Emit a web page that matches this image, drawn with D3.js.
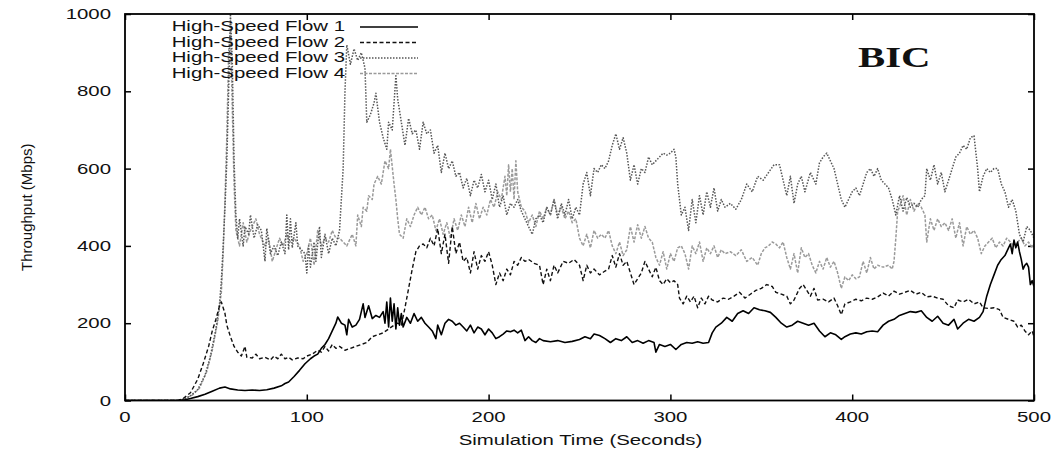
<!DOCTYPE html>
<html>
<head>
<meta charset="utf-8">
<script src="https://cdn.jsdelivr.net/npm/d3@7"></script>
<style>
  body { margin: 0; background: #fff; }
  text { font-family: "Liberation Sans", Arial, sans-serif; fill: #111; }
</style>
</head>
<body>
<div id="chart"></div>
<script>
// tick values
var xTicks = [0, 100, 200, 300, 400, 500];
var yTicks = [0, 200, 400, 600, 800, 1000];
var seriesNames = ["High-Speed Flow 1", "High-Speed Flow 2", "High-Speed Flow 3", "High-Speed Flow 4"];

// [time (s), throughput (Mbps)]
var flow1 = [[0,0],[30,0],[33,2],[36,5],[40,10],[44,16],[48,24],[52,32],[55,35],[58,30],[62,27],[66,26],[70,27],[74,26],[78,28],[82,32],[86,38],[88,44],[90,48],[93,62],[96,78],[99,95],[102,108],[104,115],[106,120],[108,135],[110,145],[112,160],[114,180],[116,200],[117,216],[119,200],[121,195],[122,170],[123,210],[125,190],[127,195],[129,210],[131,250],[132,215],[134,245],[136,212],[138,220],[140,215],[142,230],[143,200],[144,255],[145,190],[146,265],[147,205],[148,250],[149,185],[150,240],[151,195],[152,225],[153,190],[155,215],[157,200],[159,225],[161,205],[163,215],[165,200],[167,190],[169,180],[171,160],[172,195],[174,170],[176,200],[178,210],[180,205],[182,195],[184,200],[186,190],[188,180],[190,195],[192,175],[194,190],[196,185],[198,170],[200,185],[202,175],[204,160],[206,165],[208,172],[210,180],[212,178],[214,182],[216,175],[218,182],[220,155],[222,165],[224,155],[226,150],[228,160],[230,155],[234,152],[238,155],[242,150],[246,153],[250,158],[253,165],[256,160],[258,172],[261,168],[264,160],[267,150],[270,160],[273,155],[276,165],[279,150],[282,155],[285,148],[288,155],[291,150],[292,125],[294,145],[297,140],[300,145],[303,132],[306,145],[309,150],[312,148],[315,152],[318,148],[321,150],[323,175],[325,190],[328,200],[331,215],[334,205],[337,225],[340,232],[343,225],[346,240],[349,235],[352,232],[355,228],[358,215],[361,200],[364,190],[367,195],[370,205],[373,200],[376,195],[379,200],[382,180],[385,165],[388,175],[391,170],[394,158],[396,165],[399,172],[402,175],[405,172],[408,178],[411,180],[414,178],[417,195],[420,205],[423,210],[426,220],[429,225],[432,230],[435,228],[438,232],[441,215],[444,205],[447,218],[450,200],[453,195],[456,210],[458,185],[461,200],[464,210],[467,205],[470,215],[472,230],[474,270],[476,300],[478,325],[480,350],[482,365],[484,375],[486,395],[487,405],[488,380],[489,415],[490,395],[491,410],[492,385],[493,365],[494,340],[495,350],[496,355],[497,345],[498,300],[499,310],[500,295]];

var flow2 = [[0,0],[29,0],[32,5],[36,20],[40,55],[43,95],[46,140],[48,180],[50,210],[52,245],[53,255],[54,240],[55,225],[56,195],[57,180],[58,165],[60,140],[62,125],[64,115],[66,140],[67,112],[70,110],[72,120],[74,108],[77,112],[80,105],[82,115],[84,108],[86,120],[88,108],[90,112],[92,105],[95,110],[98,108],[100,115],[103,120],[106,130],[108,125],[110,140],[112,128],[114,145],[116,135],[118,140],[121,130],[124,135],[127,140],[130,145],[133,150],[136,165],[139,170],[142,175],[145,185],[148,195],[150,200],[152,195],[154,240],[156,290],[158,340],[160,385],[162,400],[164,405],[166,395],[168,420],[170,400],[172,445],[174,380],[176,430],[178,355],[180,450],[182,380],[184,410],[186,360],[188,370],[190,330],[192,385],[194,340],[196,375],[198,360],[200,385],[202,350],[204,300],[206,330],[208,310],[210,340],[212,325],[214,360],[216,350],[218,370],[220,360],[222,365],[225,355],[228,350],[230,300],[232,340],[234,310],[236,350],[238,330],[241,360],[244,355],[247,365],[250,350],[252,310],[254,350],[256,330],[258,340],[261,325],[264,335],[266,340],[268,375],[270,345],[272,380],[274,350],[276,360],[278,330],[280,300],[282,315],[284,330],[286,360],[288,340],[290,320],[292,345],[294,310],[296,300],[298,315],[300,305],[302,310],[304,300],[305,265],[307,250],[309,270],[311,255],[313,270],[315,240],[317,265],[319,250],[321,270],[323,260],[326,255],[329,265],[332,262],[335,270],[338,280],[341,265],[344,275],[347,285],[350,290],[353,300],[356,295],[358,280],[361,275],[364,270],[366,250],[368,260],[371,290],[373,300],[375,285],[377,270],[379,290],[381,260],[384,262],[387,255],[390,265],[392,245],[394,222],[396,250],[399,255],[402,262],[405,258],[408,265],[411,262],[414,268],[417,278],[420,270],[423,283],[426,275],[429,280],[432,285],[435,275],[438,280],[441,268],[444,270],[447,265],[450,262],[453,245],[456,240],[458,260],[461,255],[464,262],[467,250],[470,255],[472,240],[475,238],[478,240],[481,235],[483,215],[486,210],[489,205],[491,190],[493,195],[495,180],[497,170],[499,180],[500,165]];

var flow3 = [[0,0],[28,0],[32,3],[36,12],[40,28],[44,65],[47,115],[50,185],[52,250],[53,310],[54,400],[55,500],[56,620],[57,800],[58,1000],[59,880],[60,620],[61,480],[62,420],[63,470],[65,400],[66,450],[68,430],[69,480],[71,420],[73,455],[75,440],[77,360],[78,445],[80,380],[82,400],[84,375],[86,410],[88,380],[89,480],[90,390],[91,470],[92,395],[94,460],[95,400],[97,390],[99,380],[100,330],[101,400],[102,345],[104,410],[105,360],[107,450],[108,370],[110,430],[112,380],[114,420],[116,400],[118,440],[120,600],[121,800],[122,920],[124,870],[126,910],[128,880],[130,900],[132,860],[133,720],[135,740],[137,770],[138,795],[140,720],[142,680],[144,650],[145,720],[147,700],[149,840],[150,780],[152,720],[154,660],[156,730],[158,690],[160,700],[162,650],[164,720],[166,690],[168,700],[170,640],[172,660],[174,590],[176,640],[178,600],[180,620],[182,580],[184,590],[186,550],[188,575],[190,530],[192,570],[194,550],[196,585],[198,540],[200,570],[202,520],[204,560],[206,500],[208,530],[210,480],[212,510],[214,500],[216,520],[218,490],[220,470],[222,450],[224,430],[226,470],[228,480],[230,460],[232,500],[234,480],[236,520],[238,470],[240,510],[242,480],[244,520],[246,470],[248,500],[250,480],[252,560],[254,590],[256,530],[258,600],[260,590],[262,610],[264,600],[266,620],[268,660],[270,690],[272,650],[274,680],[276,640],[278,570],[280,610],[282,560],[284,600],[286,590],[288,630],[290,610],[292,620],[294,630],[296,640],[298,635],[300,640],[302,650],[303,630],[304,560],[305,520],[306,480],[308,500],[310,440],[312,520],[314,460],[316,530],[318,480],[320,540],[322,500],[324,550],[326,490],[328,520],[330,500],[333,510],[336,495],[339,520],[342,560],[345,540],[348,580],[351,570],[354,590],[357,610],[360,610],[362,570],[364,530],[366,580],[368,510],[370,560],[372,580],[374,540],[377,590],[380,560],[382,615],[384,630],[386,640],[388,620],[390,600],[392,560],[394,520],[396,500],[398,520],[400,540],[402,550],[404,530],[406,560],[408,590],[410,600],[412,580],[414,600],[416,570],[418,560],[420,550],[422,520],[424,480],[426,530],[428,490],[430,525],[432,500],[434,510],[436,500],[438,520],[440,530],[441,600],[443,570],[445,610],[447,560],[449,590],[451,540],[453,570],[455,600],[457,630],[459,640],[461,660],[463,650],[465,680],[467,685],[469,600],[470,540],[472,580],[474,600],[476,590],[478,600],[480,600],[482,560],[484,540],[486,500],[488,520],[490,490],[492,430],[494,410],[496,450],[498,440],[500,420]];

var flow4 = [[0,0],[29,0],[33,4],[37,14],[41,32],[45,75],[48,130],[51,205],[53,280],[54,380],[55,520],[56,680],[57,900],[58,960],[59,760],[60,560],[61,440],[63,400],[65,460],[67,410],[69,440],[72,470],[74,430],[77,400],[79,420],[81,360],[83,390],[85,420],[87,400],[89,430],[91,410],[93,420],[96,400],[98,360],[100,380],[102,420],[104,350],[106,440],[108,400],[110,420],[112,410],[114,440],[116,420],[118,420],[120,410],[122,400],[125,430],[127,400],[128,480],[130,450],[131,500],[133,490],[134,530],[136,520],[137,560],[139,580],[141,560],[143,620],[145,600],[146,650],[148,560],[149,520],[150,470],[151,430],[153,420],[155,470],[157,450],[159,480],[161,500],[163,480],[165,500],[167,470],[169,480],[171,440],[173,470],[175,430],[177,460],[179,420],[181,470],[183,440],[185,480],[187,450],[189,500],[191,460],[193,510],[195,470],[197,500],[199,480],[201,520],[203,500],[205,540],[207,520],[209,580],[210,530],[211,610],[212,540],[213,600],[214,520],[215,620],[216,540],[218,500],[220,490],[222,460],[224,480],[226,450],[228,490],[230,470],[232,500],[234,480],[236,520],[238,480],[240,500],[242,470],[244,490],[246,460],[248,470],[250,420],[252,400],[254,430],[256,395],[258,440],[260,420],[262,430],[264,420],[266,440],[268,400],[270,380],[272,410],[274,375],[276,390],[278,450],[280,410],[282,455],[284,420],[286,450],[288,420],[290,410],[292,370],[294,350],[296,385],[298,340],[300,380],[302,360],[304,395],[306,400],[308,380],[310,340],[312,400],[314,380],[316,410],[318,360],[320,395],[322,380],[324,400],[326,370],[328,390],[330,380],[333,385],[336,375],[339,390],[342,360],[345,370],[348,350],[350,380],[352,395],[354,400],[356,410],[358,405],[360,395],[362,410],[364,370],[366,340],[368,380],[370,330],[372,395],[374,370],[376,380],[378,350],[380,330],[382,360],[384,340],[386,370],[388,345],[390,360],[392,330],[394,290],[396,320],[398,310],[400,325],[402,315],[404,320],[406,360],[408,330],[410,370],[412,340],[414,350],[417,345],[420,350],[422,340],[423,360],[424,420],[425,490],[426,500],[428,530],[430,480],[432,520],[434,490],[436,510],[438,500],[440,480],[441,410],[443,470],[445,440],[447,470],[449,450],[451,460],[453,440],[455,470],[457,420],[459,460],[461,400],[463,450],[465,430],[467,440],[469,420],[471,380],[473,400],[475,410],[477,420],[479,395],[481,410],[483,400],[485,420],[487,410],[489,400],[491,410],[493,420],[495,400],[497,410],[499,395],[500,405]];

var W = 1057, H = 453;
var margin = {top: 14, right: 23, bottom: 52.5, left: 125},
    width = W - margin.left - margin.right,
    height = H - margin.top - margin.bottom;
var stretch = 1.36; // text in the picture is drawn wide

var svg = d3.select("#chart").append("svg")
    .attr("width", W)
    .attr("height", H);

var g = svg.append("g")
    .attr("transform", "translate(" + margin.left + "," + margin.top + ")");

var x = d3.scaleLinear().domain([0, 500]).range([0, width]);
var y = d3.scaleLinear().domain([0, 1000]).range([height, 0]);

var styles = [
  {stroke: "#000", width: 1.6, dash: null},
  {stroke: "#111", width: 1.4, dash: "4,2.5"},
  {stroke: "#555", width: 1.5, dash: "1.5,1.5"},
  {stroke: "#9a9a9a", width: 1.5, dash: "3,1.5"}
];
var allFlows = [flow1, flow2, flow3, flow4];

// inward ticks on all four sides (gnuplot style)
g.append("g").attr("transform", "translate(0," + height + ")")
  .call(d3.axisBottom(x).tickValues(xTicks).tickSize(-6).tickFormat(""));
g.append("g")
  .call(d3.axisTop(x).tickValues(xTicks).tickSize(-6).tickFormat(""));
g.append("g")
  .call(d3.axisLeft(y).tickValues(yTicks).tickSize(-6).tickFormat(""));
g.append("g").attr("transform", "translate(" + width + ",0)")
  .call(d3.axisRight(y).tickValues(yTicks).tickSize(-6).tickFormat(""));
g.selectAll(".domain").remove();
g.selectAll(".tick line").attr("stroke", "#000").attr("stroke-width", 1.5);

// tick labels
g.selectAll(".xlab").data(xTicks).enter().append("text")
  .attr("text-anchor", "middle")
  .attr("font-size", "15px")
  .attr("transform", function(d) { return "translate(" + x(d) + "," + (height + 21) + ") scale(" + stretch + ",1)"; })
  .text(function(d) { return d; });

g.selectAll(".ylab").data(yTicks).enter().append("text")
  .attr("text-anchor", "end")
  .attr("font-size", "15px")
  .attr("transform", function(d) { return "translate(-14," + (y(d) + 5) + ") scale(" + stretch + ",1)"; })
  .text(function(d) { return d; });

// axis titles
g.append("text")
  .attr("text-anchor", "middle")
  .attr("font-size", "15px")
  .attr("transform", "translate(" + (width / 2 + 1) + "," + (height + 44) + ") scale(" + stretch + ",1)")
  .text("Simulation Time (Seconds)");

g.append("text")
  .attr("text-anchor", "middle")
  .attr("font-size", "15px")
  .attr("transform", "translate(-93," + (height / 2) + ") rotate(-90)")
  .text("Throughput (Mbps)");

// series
var line = d3.line()
  .x(function(d) { return x(d[0]); })
  .y(function(d) { return y(d[1]); });

svg.append("clipPath").attr("id", "plotclip")
  .append("rect").attr("width", width).attr("height", height);

var lines = g.append("g").attr("clip-path", "url(#plotclip)");
[3, 2, 1, 0].forEach(function(i) {
  lines.append("path")
    .datum(allFlows[i])
    .attr("fill", "none")
    .attr("stroke", styles[i].stroke)
    .attr("stroke-width", styles[i].width)
    .attr("stroke-dasharray", styles[i].dash)
    .attr("stroke-linejoin", "round")
    .attr("d", line);
});

// frame
g.append("rect")
  .attr("width", width).attr("height", height)
  .attr("fill", "none").attr("stroke", "#000").attr("stroke-width", 1.8);

// legend
var legend = g.append("g");
seriesNames.forEach(function(name, i) {
  var ly = 17 + i * 15.5;
  legend.append("text")
    .attr("text-anchor", "end")
    .attr("font-size", "15px")
    .attr("transform", "translate(220," + ly + ") scale(" + stretch + ",1)")
    .text(name);
  legend.append("line")
    .attr("x1", 235).attr("x2", 293)
    .attr("y1", ly - 4).attr("y2", ly - 4)
    .attr("stroke", styles[i].stroke)
    .attr("stroke-width", styles[i].width)
    .attr("stroke-dasharray", styles[i].dash);
});

// BIC label
g.append("text")
  .style("font-family", "'Liberation Serif', 'Times New Roman', serif")
  .style("font-weight", "bold")
  .style("font-size", "30px")
  .attr("transform", "translate(733,53) scale(" + stretch + ",1)")
  .text("BIC");
</script>
</body>
</html>
